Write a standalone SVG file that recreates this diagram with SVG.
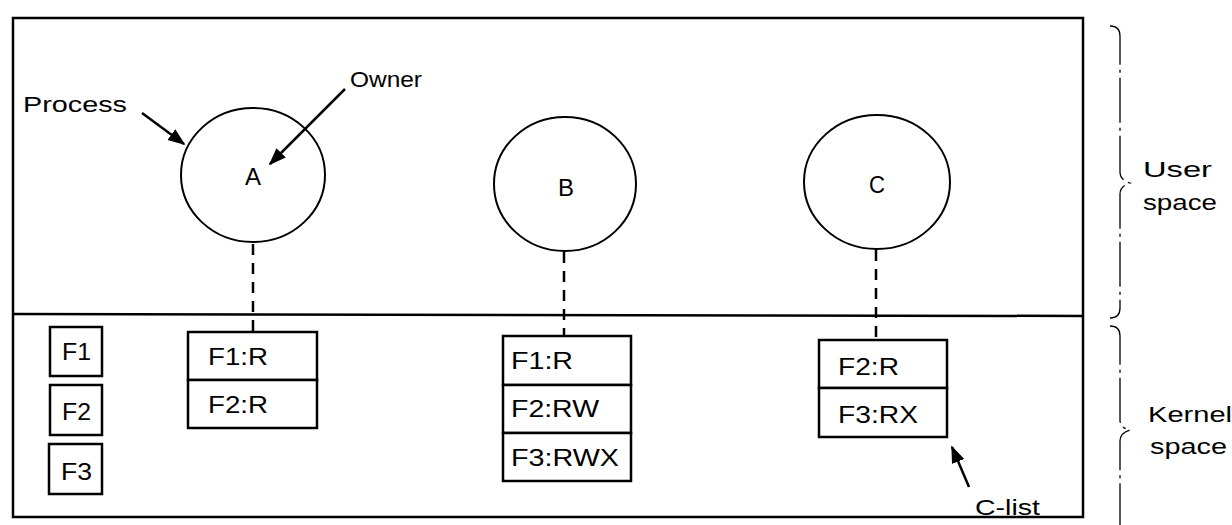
<svg xmlns="http://www.w3.org/2000/svg" width="1232" height="525" viewBox="0 0 1232 525">
<style>
  .frame{fill:none;stroke:#000;stroke-width:2.5}
  .box{fill:#fff;stroke:#000;stroke-width:2.5}
  .circ{fill:none;stroke:#000;stroke-width:2}
  .t{font-family:"Liberation Sans",Arial,sans-serif;font-size:22px;fill:#000}
  .tb{font-family:"Liberation Sans",Arial,sans-serif;font-size:24px;fill:#000}
  .dash{stroke:#000;stroke-width:2.5;stroke-dasharray:11 8;fill:none}
  .arrow{stroke:#000;stroke-width:2.5;fill:none;marker-end:url(#ah)}
  .brace{fill:none;stroke:#000;stroke-width:1.3;stroke-dasharray:45 5 3 5}
</style>
<defs>
  <marker id="ah" viewBox="0 0 10 10" refX="9" refY="5" markerWidth="7" markerHeight="7" orient="auto" markerUnits="strokeWidth">
    <path d="M0,1.2 L10,5 L0,8.8 Z" fill="#000"/>
  </marker>
</defs>
<rect width="1232" height="525" fill="#fff"/>

<g id="frame">
  <rect class="frame" x="13" y="18" width="1070" height="499"/>
  <line class="frame" x1="13" y1="314" x2="1083" y2="316"/>
</g>

<g id="connectors">
  <line class="dash" x1="253" y1="244" x2="253" y2="332"/>
  <line class="dash" x1="564" y1="252" x2="564" y2="336"/>
  <line class="dash" x1="876" y1="250" x2="876" y2="340"/>
  <line class="arrow" x1="142" y1="113" x2="184" y2="144"/>
  <line class="arrow" x1="345" y1="89" x2="270" y2="164"/>
  <line class="arrow" x1="969" y1="487" x2="952" y2="447"/>
</g>

<g id="processA">
  <ellipse class="circ" cx="253" cy="175" rx="72" ry="67"/>
  <text class="tb" x="245" y="185" textLength="16" lengthAdjust="spacingAndGlyphs">A</text>
</g>
<g id="processB">
  <ellipse class="circ" cx="565" cy="184" rx="71" ry="67"/>
  <text class="tb" x="558" y="196" textLength="16" lengthAdjust="spacingAndGlyphs">B</text>
</g>
<g id="processC">
  <ellipse class="circ" cx="877" cy="182" rx="73" ry="67"/>
  <text class="tb" x="869" y="193" textLength="16" lengthAdjust="spacingAndGlyphs">C</text>
</g>

<g id="clistA">
  <rect class="box" x="188" y="332" width="129" height="48"/>
  <rect class="box" x="188" y="380" width="129" height="48"/>
  <text class="tb" x="208" y="365" textLength="60" lengthAdjust="spacingAndGlyphs">F1:R</text>
  <text class="tb" x="208" y="413" textLength="60" lengthAdjust="spacingAndGlyphs">F2:R</text>
</g>
<g id="clistB">
  <rect class="box" x="503" y="336" width="128" height="49"/>
  <rect class="box" x="503" y="385" width="128" height="48"/>
  <rect class="box" x="503" y="433" width="128" height="48"/>
  <text class="tb" x="511" y="369" textLength="62" lengthAdjust="spacingAndGlyphs">F1:R</text>
  <text class="tb" x="511" y="417" textLength="88" lengthAdjust="spacingAndGlyphs">F2:RW</text>
  <text class="tb" x="511" y="466" textLength="108" lengthAdjust="spacingAndGlyphs">F3:RWX</text>
</g>
<g id="clistC">
  <rect class="box" x="819" y="340" width="128" height="48"/>
  <rect class="box" x="819" y="388" width="128" height="49"/>
  <text class="tb" x="838" y="375" textLength="61" lengthAdjust="spacingAndGlyphs">F2:R</text>
  <text class="tb" x="838" y="423" textLength="80" lengthAdjust="spacingAndGlyphs">F3:RX</text>
</g>

<g id="fileF1">
  <rect class="box" x="50" y="327" width="52" height="49"/>
  <text class="tb" x="62" y="360" textLength="29" lengthAdjust="spacingAndGlyphs">F1</text>
</g>
<g id="fileF2">
  <rect class="box" x="50" y="385" width="52" height="50"/>
  <text class="tb" x="62" y="420" textLength="29" lengthAdjust="spacingAndGlyphs">F2</text>
</g>
<g id="fileF3">
  <rect class="box" x="49" y="444" width="53" height="50"/>
  <text class="tb" x="61" y="480" textLength="31" lengthAdjust="spacingAndGlyphs">F3</text>
</g>

<g id="labels">
  <text class="t" x="23" y="112" textLength="104" lengthAdjust="spacingAndGlyphs">Process</text>
  <text class="t" x="350" y="87" textLength="72" lengthAdjust="spacingAndGlyphs">Owner</text>
  <text class="t" x="975" y="515" textLength="65" lengthAdjust="spacingAndGlyphs">C-list</text>
  <text class="t" x="1143" y="177" textLength="69" lengthAdjust="spacingAndGlyphs">User</text>
  <text class="t" x="1143" y="210" textLength="74" lengthAdjust="spacingAndGlyphs">space</text>
  <text class="t" x="1148" y="422" textLength="84" lengthAdjust="spacingAndGlyphs">Kernel</text>
  <text class="t" x="1150" y="454" textLength="77" lengthAdjust="spacingAndGlyphs">space</text>
</g>

<g id="braces">
  <path class="brace" d="M1110,26 Q1120,26 1120,36 L1120,172 Q1120,180 1130,183 Q1120,186 1120,194 L1120,308 Q1120,318 1110,318"/>
  <path class="brace" d="M1110,326 Q1120,326 1120,336 L1120,420 Q1120,428 1130,430 Q1120,433 1120,441 L1120,525"/>
</g>
</svg>
